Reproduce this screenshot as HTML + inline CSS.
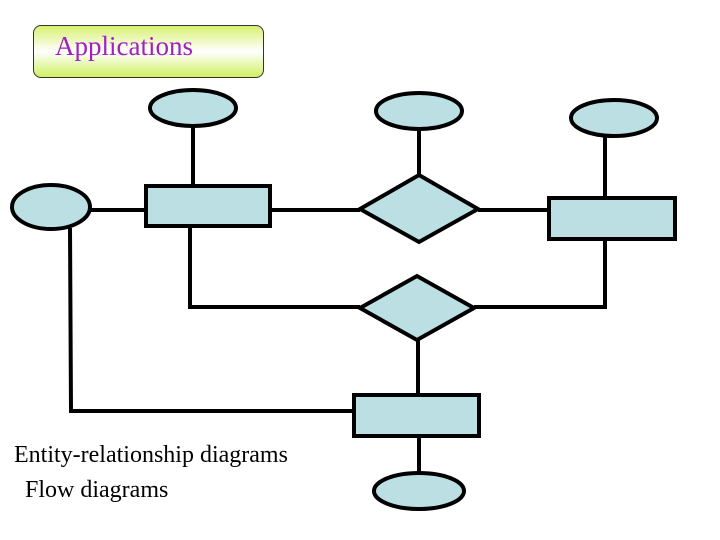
<!DOCTYPE html>
<html><head><style>
body{margin:0;width:720px;height:540px;background:#fff;overflow:hidden;position:relative;font-family:"Liberation Serif",serif}
.app{position:absolute;left:33px;top:25px;width:229px;height:51px;border:1px solid #333;border-radius:8px;background:linear-gradient(#d8f070,#fff 50%,#d0f060)}
.app span{position:absolute;left:21px;top:5px;font-size:27px;color:#a020c0}
.t{position:absolute;font-size:24px;color:#000}
</style></head><body>
<div class="app"><span>Applications</span></div>
<svg width="720" height="540" style="position:absolute;left:0;top:0">
<g stroke="#000" stroke-width="4" fill="none">
<polyline points="90,210 146,210"/>
<polyline points="270,210 360,210"/>
<polyline points="478,210 549,210"/>
<polyline points="193,126 193,186"/>
<polyline points="419,129 419,175"/>
<polyline points="605,136 605,198"/>
<polyline points="190,226 190,307 360,307"/>
<polyline points="474,307 605,307 605,239"/>
<polyline points="418,340 418,395"/>
<polyline points="70,228 71,411 354,411"/>
<polyline points="419,436 419,473"/>
</g>
<g stroke="#000" stroke-width="4" fill="#bcdfe3">
<ellipse cx="193" cy="108" rx="43" ry="18"/>
<ellipse cx="419" cy="111" rx="43" ry="18"/>
<ellipse cx="614" cy="118" rx="43" ry="18"/>
<ellipse cx="51" cy="207" rx="39" ry="22"/>
<ellipse cx="419" cy="491" rx="45" ry="18"/>
<rect x="146" y="186" width="124" height="40"/>
<rect x="549" y="198" width="126" height="41"/>
<rect x="354" y="395" width="125" height="41"/>
<polygon points="360,209 419,175 478,209 419,242"/>
<polygon points="360,308 417,276 474,308 417,340"/>
</g>
</svg>
<div class="t" style="left:14px;top:442px">Entity-relationship diagrams</div>
<div class="t" style="left:25px;top:477px">Flow diagrams</div>
</body></html>
